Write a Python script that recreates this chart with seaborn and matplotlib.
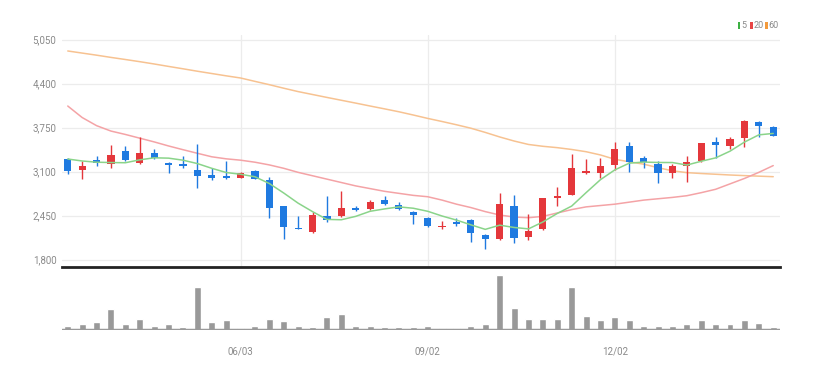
import numpy as np
import pandas as pd
import matplotlib
matplotlib.use("Agg")
import matplotlib.pyplot as plt
import seaborn as sns
from matplotlib.patches import Rectangle
from matplotlib import font_manager

# ---------------- data (weekly candles) ----------------
opens = [3283, 3120, 3268, 3214, 3406, 3233, 3372, 3233, 3218, 3125,
         3047, 3041, 3007, 3110, 2977, 2592, 2275, 2214, 2441, 2450,
         2559, 2545, 2677, 2613, 2509, 2420, 2280, 2362, 2387, 2165,
         2101, 2592, 2131, 2253, 2710, 2756, 3076, 3076, 3199, 3484,
         3307, 3209, 3086, 3189, 3258, 3534, 3484, 3598, 3839, 3765]
highs = [3298, 3258, 3336, 3494, 3484, 3608, 3431, 3240, 3336, 3509,
         3159, 3258, 3090, 3125, 3017, 2600, 2450, 2509, 2741, 2820,
         2592, 2680, 2741, 2657, 2515, 2430, 2372, 2411, 2395, 2175,
         2785, 2756, 2475, 2706, 2879, 3361, 3283, 3298, 3543, 3534,
         3332, 3263, 3214, 3332, 3525, 3617, 3617, 3864, 3845, 3770]
lows = [3062, 2992, 3180, 3150, 3258, 3214, 3283, 3086, 3159, 2855,
        2982, 2987, 3000, 2985, 2412, 2106, 2258, 2190, 2352, 2435,
        2515, 2530, 2603, 2535, 2323, 2280, 2249, 2298, 2066, 1952,
        2090, 2052, 2091, 2240, 2592, 2750, 3066, 3002, 3125, 3100,
        3150, 2928, 3002, 2952, 3250, 3307, 3435, 3460, 3617, 3620]
closes = [3115, 3184, 3228, 3347, 3277, 3372, 3302, 3203, 3180, 3036,
          3007, 3002, 3086, 2990, 2559, 2279, 2260, 2460, 2390, 2559,
          2530, 2648, 2627, 2545, 2456, 2298, 2295, 2332, 2200, 2106,
          2618, 2124, 2229, 2706, 2740, 3159, 3115, 3189, 3431, 3238,
          3238, 3086, 3184, 3243, 3519, 3490, 3578, 3853, 3779, 3627]
ma5 = [3287, 3258, 3240, 3235, 3232, 3275, 3305, 3300, 3270, 3220,
       3150, 3088, 3062, 3025, 2925, 2785, 2635, 2510, 2395, 2390,
       2440, 2515, 2550, 2580, 2560, 2515, 2445, 2385, 2315, 2248,
       2310, 2276, 2255, 2357, 2483, 2592, 2790, 2982, 3127, 3226,
       3242, 3236, 3235, 3198, 3254, 3304, 3403, 3537, 3644, 3665]
ma20 = [4070, 3900, 3780, 3700, 3650, 3595, 3540, 3480, 3425, 3372,
        3320, 3290, 3270, 3240, 3200, 3150, 3090, 3040, 2990, 2940,
        2890, 2850, 2810, 2780, 2750, 2730, 2680, 2620, 2570, 2510,
        2460, 2430, 2420, 2440, 2490, 2540, 2580, 2600, 2620, 2650,
        2680, 2700, 2720, 2745, 2790, 2840, 2920, 3000, 3090, 3190]
ma60 = [4883, 4852, 4821, 4788, 4757, 4725, 4691, 4655, 4620, 4584,
        4550, 4516, 4484, 4434, 4385, 4333, 4283, 4240, 4197, 4155,
        4113, 4070, 4028, 3985, 3937, 3887, 3841, 3793, 3742, 3680,
        3613, 3553, 3502, 3475, 3455, 3428, 3395, 3347, 3283, 3246,
        3211, 3159, 3113, 3086, 3073, 3062, 3051, 3042, 3034, 3026]
volume = [4.3, 5.7, 8, 20.7, 6.3, 11.3, 4.3, 6.3, 2.7, 42.7,
          8, 9.7, 2.3, 3.7, 10.7, 9, 3.7, 2.7, 12.7, 15.7,
          4, 4.3, 2.7, 2.7, 2.7, 4, 2, 2.3, 4.3, 6.3,
          55, 22.3, 10.7, 10.7, 11.3, 43.3, 14, 9.7, 12.7, 9.7,
          4.3, 4.3, 3.7, 6.3, 9.7, 5.7, 5.7, 9.7, 7.3, 2.7]
price_ticks = [1800, 2450, 3100, 3750, 4400, 5050]
date_tick_pos = [12, 25, 38]
date_tick_labels = ["06/03", "09/02", "12/02"]
legend_labels = ["5", "20", "60"]

# ---------------- style ----------------
sns.set_theme(style="white")
names = {f.name for f in font_manager.fontManager.ttflist}
narrow = "Liberation Sans Narrow" if "Liberation Sans Narrow" in names else "Roboto"
plt.rcParams["font.family"] = [narrow, "DejaVu Sans"]

UP = "#e4373b"
DOWN = "#1f7ae0"
C5 = "#8ad48a"
C20 = "#f4a3a6"
C60 = "#f7c291"
GRID = "#ececec"
LBL = "#8a8a8a"

W, H = 821, 371
fig = plt.figure(figsize=(W / 100, H / 100), dpi=100)
fig.patch.set_facecolor("white")

def ax_rect(x0, y0, x1, y1):
    return [x0 / W, 1 - y1 / H, (x1 - x0) / W, (y1 - y0) / H]

n = len(closes)
idx = np.arange(n)
df = pd.DataFrame({"i": idx, "open": opens, "high": highs, "low": lows,
                   "close": closes, "ma5": ma5, "ma20": ma20, "ma60": ma60,
                   "vol": volume})
xlim = (-0.40, 49.47)

# ---------------- price pane ----------------
ax = fig.add_axes(ax_rect(62, 35, 780, 267))
ax.set_xlim(*xlim)
ax.set_ylim(1692, 5119)
for t in price_ticks:
    ax.axhline(t, color=GRID, lw=0.9, zorder=0)
for p in date_tick_pos:
    ax.axvline(p, color=GRID, lw=0.9, zorder=0)

sns.lineplot(data=df, x="i", y="ma60", color=C60, lw=1.1, ax=ax, zorder=2)
sns.lineplot(data=df, x="i", y="ma20", color=C20, lw=1.1, ax=ax, zorder=2)

up = df["close"] >= df["open"]
colors = np.where(up, UP, DOWN)
ax.vlines(df["i"], df["low"], df["high"], colors=colors, lw=1.0, zorder=3)
body_lo = np.minimum(df["open"], df["close"])
body_h = np.maximum(np.abs(df["close"] - df["open"]), 14)
ax.bar(df["i"], body_h, bottom=body_lo, width=0.5, color=colors,
       edgecolor="none", zorder=4)

sns.lineplot(data=df, x="i", y="ma5", color=C5, lw=1.1, ax=ax, zorder=5)

ax.set_yticks(price_ticks)
ax.set_yticklabels([f"{t:,}" for t in price_ticks])
ax.tick_params(axis="y", length=0, pad=4, labelsize=7, labelcolor=LBL)
ax.set_xticks([])
ax.set_xlabel("")
ax.set_ylabel("")
for s in ["top", "left", "right"]:
    ax.spines[s].set_visible(False)
ax.spines["bottom"].set_color("#222222")
ax.spines["bottom"].set_linewidth(2.0)

# ---------------- volume pane ----------------
vax = fig.add_axes(ax_rect(62, 270, 780, 330))
sns.barplot(data=df, x="i", y="vol", color="#999999", width=0.48,
            saturation=1, ax=vax, zorder=2)
vax.set_xlim(*xlim)
vax.set_ylim(0, 60)
vax.axhline(0, color="#9a9a9a", lw=2.5, zorder=3)
vax.set_yticks([])
vax.set_xticks(date_tick_pos)
vax.set_xticklabels(date_tick_labels)
vax.tick_params(axis="x", length=4, width=0.8, color="#555555", pad=8,
                labelsize=7, labelcolor=LBL, direction="out")
vax.set_xlabel("")
vax.set_ylabel("")
for s in ["top", "left", "right", "bottom"]:
    vax.spines[s].set_visible(False)

# ---------------- legend (top right) ----------------
lx = [737.5, 750.0, 765.0]
for x0, col, lab in zip(lx, [C5 if False else "#3cb043", "#e84545", "#f39a3c"], legend_labels):
    fig.add_artist(Rectangle((x0 / W, 1 - 29 / H), 2.6 / W, 6.5 / H,
                             transform=fig.transFigure, color=col, lw=0))
    fig.text((x0 + 3.6) / W, 1 - 25.8 / H, lab, fontsize=6.5, color=LBL,
             va="center", ha="left")

fig.savefig("out.png", dpi=100, facecolor="white")
